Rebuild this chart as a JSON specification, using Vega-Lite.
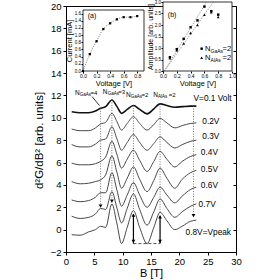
{
  "$schema": "https://vega.github.io/schema/vega-lite/v6.json",
  "width": 170,
  "height": 246,
  "autosize": "none",
  "padding": {"left": 66, "top": 6, "right": 44, "bottom": 28},
  "background": "white",
  "config": {
    "font": "Liberation Sans",
    "view": {"stroke": "black", "strokeWidth": 1},
    "axis": {"grid": false, "domainColor": "black", "tickColor": "black", "labelColor": "black", "titleColor": "black", "titleFontWeight": "normal", "labelFlush": false, "labelOverlap": false, "labelBound": false, "zindex": 1}
  },
  "datasets": {
    "curves": [
      {"B": 1, "v1": 10.55, "v2": 9.0, "v3": 7.6, "v4": 5.95, "v5": 4.3, "v6": 2.65, "v7": 1.2, "v8": -0.45},
      {"B": 2.5, "v1": 10.45, "v2": 8.85, "v3": 7.4, "v4": 5.8, "v5": 4.1, "v6": 2.5, "v7": 1.0, "v8": -0.5},
      {"B": 4, "v1": 10.45, "v2": 8.85, "v3": 7.4, "v4": 5.8, "v5": 4.15, "v6": 2.6, "v7": 1.1, "v8": -0.2},
      {"B": 5.2, "v1": 10.6, "v2": 9.1, "v3": 7.65, "v4": 5.9, "v5": 4.3, "v6": 2.9, "v7": 1.4, "v8": 0.0},
      {"B": 6.1, "v1": 10.85, "v2": 9.45, "v3": 8.0, "v4": 6.1, "v5": 4.45, "v6": 3.3, "v7": 1.9, "v8": 0.3},
      {"B": 7, "v1": 11.0, "v2": 9.6, "v3": 8.1, "v4": 6.5, "v5": 4.9, "v6": 3.3, "v7": 1.8, "v8": 0.2},
      {"B": 8.1, "v1": 11.6, "v2": 10.4, "v3": 9.2, "v4": 7.9, "v5": 6.6, "v6": 5.1, "v7": 3.4, "v8": 2.3},
      {"B": 9, "v1": 11.0, "v2": 9.65, "v3": 8.1, "v4": 6.7, "v5": 5.1, "v6": 3.5, "v7": 1.9, "v8": 0.5},
      {"B": 9.8, "v1": 10.4, "v2": 8.9, "v3": 7.1, "v4": 5.5, "v5": 3.7, "v6": 2.1, "v7": 0.6, "v8": -1.25},
      {"B": 10.8, "v1": 10.75, "v2": 9.5, "v3": 7.8, "v4": 6.3, "v5": 4.6, "v6": 3.1, "v7": 1.9, "v8": 0.2},
      {"B": 11.9, "v1": 11.1, "v2": 10.1, "v3": 8.5, "v4": 7.1, "v5": 5.6, "v6": 4.2, "v7": 3.2, "v8": 1.7},
      {"B": 13, "v1": 10.75, "v2": 9.5, "v3": 7.8, "v4": 6.2, "v5": 4.5, "v6": 3.1, "v7": 1.8, "v8": 0.2},
      {"B": 14.3, "v1": 10.35, "v2": 8.9, "v3": 7.1, "v4": 5.2, "v5": 3.4, "v6": 2.0, "v7": 0.4, "v8": -1.25},
      {"B": 15.5, "v1": 10.8, "v2": 9.4, "v3": 7.7, "v4": 6.1, "v5": 4.4, "v6": 2.9, "v7": 1.6, "v8": 0.2},
      {"B": 16.6, "v1": 11.25, "v2": 9.95, "v3": 8.3, "v4": 7.0, "v5": 5.5, "v6": 3.8, "v7": 2.75, "v8": 1.55},
      {"B": 17.8, "v1": 11.1, "v2": 9.55, "v3": 7.8, "v4": 6.3, "v5": 4.6, "v6": 3.1, "v7": 1.9, "v8": 0.8},
      {"B": 19.2, "v1": 10.95, "v2": 9.1, "v3": 7.3, "v4": 5.6, "v5": 3.7, "v6": 2.4, "v7": 1.1, "v8": 0.0},
      {"B": 20.5, "v1": 11.0, "v2": 9.3, "v3": 7.6, "v4": 6.1, "v5": 4.5, "v6": 3.0, "v7": 1.6, "v8": 0.3},
      {"B": 22, "v1": 11.05, "v2": 9.5, "v3": 7.9, "v4": 6.55, "v5": 5.1, "v6": 3.6, "v7": 2.1, "v8": 0.75},
      {"B": 23, "v1": 11.05, "v2": 9.55, "v3": 8.0, "v4": 6.7, "v5": 5.3, "v6": 3.8, "v7": 2.3, "v8": 0.85}
    ],
    "nlabels": [
      {"B": 1.6, "y": 12.2, "s": "GaAs", "e": "=4"},
      {"B": 6.5, "y": 12.3, "s": "GaAs", "e": "=3"},
      {"B": 10.6, "y": 12.05, "s": "GaAs", "e": "=2"},
      {"B": 15.4, "y": 12.05, "s": "AlAs", "e": "=2"}
    ],
    "legendb": [
      {"V": 0.61, "A": 0.97, "s": "GaAs", "e": "=2"},
      {"V": 0.61, "A": 0.58, "s": "AlAs", "e": "=2"}
    ],
    "ia": [
      {"V": 0, "I": 0}, {"V": 0.1, "I": 0.47}, {"V": 0.2, "I": 0.83}, {"V": 0.3, "I": 1.17},
      {"V": 0.4, "I": 1.33}, {"V": 0.5, "I": 1.44}, {"V": 0.6, "I": 1.5}, {"V": 0.7, "I": 1.5}, {"V": 0.8, "I": 1.53}
    ]
  },
  "layer": [
    {
      "resolve": {"axis": {"x": "independent", "y": "independent"}},
      "layer": [
        {
          "data": {"name": "curves"},
          "transform": [{"fold": ["v2", "v3", "v4", "v5", "v6", "v7", "v8"], "as": ["V", "v"]}],
          "mark": {"type": "line", "interpolate": "monotone", "color": "#333", "strokeWidth": 0.9},
          "encoding": {
            "x": {"field": "B", "type": "quantitative", "scale": {"domain": [0, 30], "nice": false, "zero": false}, "axis": null},
            "y": {"field": "v", "type": "quantitative", "scale": {"domain": [-2, 20], "nice": false, "zero": false}, "axis": null},
            "detail": {"field": "V"}
          }
        },
        {
          "data": {"name": "curves"},
          "transform": [{"fold": ["v1"], "as": ["V", "v"]}],
          "mark": {"type": "line", "interpolate": "monotone", "color": "#111", "strokeWidth": 1.6},
          "encoding": {
            "x": {"field": "B", "type": "quantitative", "axis": null},
            "y": {"field": "v", "type": "quantitative", "axis": null}
          }
        },
        {
          "data": {"values": [
            {"B": 6.1, "y1": 10.85, "y2": 1.95},
            {"B": 8.1, "y1": 11.6, "y2": 2.4},
            {"B": 11.9, "y1": 11.1, "y2": 1.7},
            {"B": 16.6, "y1": 11.25, "y2": 1.55},
            {"B": 22.5, "y1": 11.05, "y2": 1.1}
          ]},
          "mark": {"type": "rule", "color": "#555", "strokeWidth": 0.8, "strokeDash": [1, 1.5]},
          "encoding": {
            "x": {"field": "B", "type": "quantitative", "axis": null},
            "y": {"field": "y1", "type": "quantitative", "axis": null},
            "y2": {"field": "y2"}
          }
        },
        {
          "data": {"values": [{"B": 11.9, "y1": -1.25, "y2": 1.4}, {"B": 16.6, "y1": -1.25, "y2": 1.25}]},
          "mark": {"type": "rule", "color": "black", "strokeWidth": 1.2},
          "encoding": {
            "x": {"field": "B", "type": "quantitative", "axis": null},
            "y": {"field": "y1", "type": "quantitative", "axis": null},
            "y2": {"field": "y2"}
          }
        },
        {
          "data": {"values": [{"B": 6.1, "y": 2.1}, {"B": 8.1, "y": 2.55}, {"B": 11.9, "y": -1.05}, {"B": 16.6, "y": -1.05}, {"B": 22.5, "y": 1.25}]},
          "mark": {"type": "point", "shape": "triangle-down", "filled": true, "color": "black", "size": 14, "opacity": 1},
          "encoding": {
            "x": {"field": "B", "type": "quantitative", "axis": null},
            "y": {"field": "y", "type": "quantitative", "axis": null}
          }
        },
        {
          "data": {"values": [{"B": 11.9, "y": 1.3}, {"B": 16.6, "y": 1.15}]},
          "mark": {"type": "point", "shape": "triangle-up", "filled": true, "color": "black", "size": 14, "opacity": 1},
          "encoding": {
            "x": {"field": "B", "type": "quantitative", "axis": null},
            "y": {"field": "y", "type": "quantitative", "axis": null}
          }
        },
        {
          "data": {"values": [{"B1": 4.6, "y1": 11.9, "B2": 5.9, "y2": 11.1}]},
          "mark": {"type": "rule", "color": "black", "strokeWidth": 0.8},
          "encoding": {
            "x": {"field": "B1", "type": "quantitative", "axis": null},
            "x2": {"field": "B2"},
            "y": {"field": "y1", "type": "quantitative", "axis": null},
            "y2": {"field": "y2"}
          }
        },
        {
          "data": {"name": "nlabels"},
          "mark": {"type": "text", "text": "N", "align": "left", "baseline": "middle", "fontSize": 6.5, "color": "black"},
          "encoding": {
            "x": {"field": "B", "type": "quantitative", "axis": null},
            "y": {"field": "y", "type": "quantitative", "axis": null}
          }
        },
        {
          "data": {"name": "nlabels"},
          "mark": {"type": "text", "align": "left", "baseline": "middle", "fontSize": 4.5, "dx": 4.8, "dy": 2, "color": "black"},
          "encoding": {
            "x": {"field": "B", "type": "quantitative", "axis": null},
            "y": {"field": "y", "type": "quantitative", "axis": null},
            "text": {"field": "s"}
          }
        },
        {
          "data": {"name": "nlabels"},
          "mark": {"type": "text", "align": "left", "baseline": "middle", "fontSize": 6, "dx": 15.5, "color": "black"},
          "encoding": {
            "x": {"field": "B", "type": "quantitative", "axis": null},
            "y": {"field": "y", "type": "quantitative", "axis": null},
            "text": {"field": "e"}
          }
        }
      ]
    },
    {
      "data": {"values": [{"B1": 11.9, "B2": 16.6, "y": -1.25}]},
      "mark": {"type": "rule", "color": "#222", "strokeWidth": 0.8, "strokeDash": [3, 2]},
      "encoding": {
        "x": {"field": "B1", "type": "quantitative", "scale": {"domain": [0, 30], "nice": false, "zero": false}, "axis": null},
        "x2": {"field": "B2"},
        "y": {"field": "y", "type": "quantitative", "scale": {"domain": [-2, 20], "nice": false, "zero": false},
          "axis": {"orient": "right", "offset": -3, "values": [-2, 0, 2, 4, 6, 8, 10, 12, 14, 16, 18, 20], "labels": false, "tickSize": 3, "domain": false, "title": null}}
      }
    },
    {
      "data": {"values": [
        {"B": 22.5, "y": 11.68, "t": "V=0.1 Volt"},
        {"B": 24.05, "y": 9.6, "t": "0.2V"},
        {"B": 24.05, "y": 8.31, "t": "0.3V"},
        {"B": 23.8, "y": 6.82, "t": "0.4V"},
        {"B": 23.8, "y": 5.33, "t": "0.5V"},
        {"B": 23.8, "y": 3.9, "t": "0.6V"},
        {"B": 23.4, "y": 2.2, "t": "0.7V"},
        {"B": 21.1, "y": -0.33, "t": "0.8V=Vpeak"}
      ]},
      "mark": {"type": "text", "align": "left", "baseline": "middle", "fontSize": 8.3, "color": "black"},
      "encoding": {
        "x": {"field": "B", "type": "quantitative", "scale": {"domain": [0, 30], "nice": false, "zero": false},
          "axis": {"orient": "bottom", "values": [0, 5, 10, 15, 20, 25, 30], "labelOverlap": false, "title": "B [T]", "titleFontSize": 11, "labelFontSize": 9.5, "tickSize": 3, "labelPadding": 1, "titlePadding": 2}},
        "y": {"field": "y", "type": "quantitative", "scale": {"domain": [-2, 20], "nice": false, "zero": false},
          "axis": {"orient": "left", "values": [-2, 0, 2, 4, 6, 8, 10, 12, 14, 16, 18, 20], "labelOverlap": false, "title": "d²G/dB² [arb. units]", "titleFontSize": 11.5, "labelFontSize": 9.5, "tickSize": 3, "labelPadding": 2, "titleX": -27, "titleY": 134, "titleAlign": "center", "titleBaseline": "middle", "titleAngle": -90}},
        "text": {"field": "t"}
      }
    },
    {
      "resolve": {"axis": {"x": "independent", "y": "independent"}},
      "layer": [
        {
          "data": {"values": [{"x0": 0, "x1": 0.9, "y0": 0, "y1": 1.7}]},
          "mark": {"type": "rect", "fill": "white", "stroke": "black", "strokeWidth": 0.8},
          "encoding": {
            "x": {"field": "x0", "type": "quantitative", "scale": {"domain": [0, 0.9], "range": [17, 78], "nice": false, "zero": false},
              "axis": {"orient": "bottom", "offset": -181, "values": [0, 0.2, 0.4, 0.6, 0.8], "labelOverlap": false, "format": ".1f", "labelFontSize": 5, "tickSize": 2, "labelPadding": 0.5, "title": "Voltage [V]", "titleFontSize": 7.5, "titlePadding": 1, "domain": false}},
            "x2": {"field": "x1"},
            "y": {"field": "y0", "type": "quantitative", "scale": {"domain": [0, 1.7], "range": [65, 4], "nice": false, "zero": false},
              "axis": {"orient": "left", "offset": -17, "values": [0, 0.2, 0.4, 0.6, 0.8, 1.0, 1.2, 1.4, 1.6], "labelOverlap": false, "format": ".1f", "labelFontSize": 4.5, "tickSize": 2, "labelPadding": 0.5, "title": "Current [mA]", "titleFontSize": 7.5, "titlePadding": 1, "domain": false}},
            "y2": {"field": "y1"}
          }
        },
        {
          "data": {"name": "ia"},
          "mark": {"type": "line", "interpolate": "monotone", "color": "#444", "strokeWidth": 0.7, "strokeDash": [1, 1.2]},
          "encoding": {
            "x": {"field": "V", "type": "quantitative", "axis": null},
            "y": {"field": "I", "type": "quantitative", "axis": null}
          }
        },
        {
          "data": {"name": "ia"},
          "mark": {"type": "point", "shape": "square", "filled": true, "color": "black", "size": 5, "opacity": 1},
          "encoding": {
            "x": {"field": "V", "type": "quantitative", "axis": null},
            "y": {"field": "I", "type": "quantitative", "axis": null}
          }
        },
        {
          "data": {"values": [{"V": 0.07, "I": 1.53, "t": "(a)"}]},
          "mark": {"type": "text", "align": "left", "baseline": "middle", "fontSize": 7, "color": "black"},
          "encoding": {
            "x": {"field": "V", "type": "quantitative", "axis": null},
            "y": {"field": "I", "type": "quantitative", "axis": null},
            "text": {"field": "t"}
          }
        }
      ]
    },
    {
      "resolve": {"axis": {"x": "independent", "y": "independent"}},
      "layer": [
        {
          "data": {"values": [{"x0": 0, "x1": 1.0, "y0": 0, "y1": 3.0}]},
          "mark": {"type": "rect", "fill": "white", "stroke": "black", "strokeWidth": 0.8},
          "encoding": {
            "x": {"field": "x0", "type": "quantitative", "scale": {"domain": [0, 1.0], "range": [97, 166], "nice": false, "zero": false},
              "axis": {"orient": "bottom", "offset": -181, "values": [0, 0.2, 0.4, 0.6, 0.8, 1.0], "labelOverlap": false, "format": ".1f", "labelFontSize": 5, "tickSize": 2, "labelPadding": 0.5, "title": "Voltage [V]", "titleFontSize": 7.5, "titlePadding": 1, "domain": false}},
            "x2": {"field": "x1"},
            "y": {"field": "y0", "type": "quantitative", "scale": {"domain": [0, 3.0], "range": [65, -4], "nice": false, "zero": false},
              "axis": {"orient": "left", "offset": -97, "values": [0, 0.5, 1.0, 1.5, 2.0, 2.5, 3.0], "labelOverlap": false, "format": ".1f", "labelFontSize": 4.5, "tickSize": 2, "labelPadding": 0.5, "title": "Amplitude [arb. units]", "titleFontSize": 7, "titlePadding": 1, "domain": false}},
            "y2": {"field": "y1"}
          }
        },
        {
          "data": {"values": [
            {"V": 0.02, "A": 0, "g": "s"}, {"V": 0.63, "A": 3.0, "g": "s"},
            {"V": 0.02, "A": 0, "g": "t"}, {"V": 0.73, "A": 3.0, "g": "t"}
          ]},
          "mark": {"type": "line", "color": "#555", "strokeWidth": 0.7, "strokeDash": [1, 1.2]},
          "encoding": {
            "x": {"field": "V", "type": "quantitative", "axis": null},
            "y": {"field": "A", "type": "quantitative", "axis": null},
            "detail": {"field": "g"}
          }
        },
        {
          "data": {"values": [
            {"V": 0.1, "A": 0.6}, {"V": 0.2, "A": 0.95}, {"V": 0.3, "A": 1.4}, {"V": 0.4, "A": 1.9},
            {"V": 0.5, "A": 2.2}, {"V": 0.6, "A": 2.8}, {"V": 0.7, "A": 2.6}, {"V": 0.8, "A": 2.45},
            {"V": 0.56, "A": 0.97}
          ]},
          "mark": {"type": "point", "shape": "square", "filled": true, "color": "black", "size": 6, "opacity": 1},
          "encoding": {
            "x": {"field": "V", "type": "quantitative", "axis": null},
            "y": {"field": "A", "type": "quantitative", "axis": null}
          }
        },
        {
          "data": {"values": [
            {"V": 0.1, "A": 0.55}, {"V": 0.2, "A": 0.9}, {"V": 0.3, "A": 1.2}, {"V": 0.4, "A": 1.65},
            {"V": 0.5, "A": 2.0}, {"V": 0.6, "A": 2.45}, {"V": 0.7, "A": 2.55}, {"V": 0.8, "A": 2.35},
            {"V": 0.56, "A": 0.58}
          ]},
          "mark": {"type": "point", "shape": "triangle-up", "filled": true, "color": "black", "size": 8, "opacity": 1},
          "encoding": {
            "x": {"field": "V", "type": "quantitative", "axis": null},
            "y": {"field": "A", "type": "quantitative", "axis": null}
          }
        },
        {
          "data": {"values": [{"V": 0.07, "A": 2.42, "t": "(b)"}]},
          "mark": {"type": "text", "align": "left", "baseline": "middle", "fontSize": 7, "color": "black"},
          "encoding": {
            "x": {"field": "V", "type": "quantitative", "axis": null},
            "y": {"field": "A", "type": "quantitative", "axis": null},
            "text": {"field": "t"}
          }
        },
        {
          "data": {"name": "legendb"},
          "mark": {"type": "text", "text": "N", "align": "left", "baseline": "middle", "fontSize": 7.5, "color": "black"},
          "encoding": {
            "x": {"field": "V", "type": "quantitative", "axis": null},
            "y": {"field": "A", "type": "quantitative", "axis": null}
          }
        },
        {
          "data": {"name": "legendb"},
          "mark": {"type": "text", "align": "left", "baseline": "middle", "fontSize": 5, "dx": 5.5, "dy": 2, "color": "black"},
          "encoding": {
            "x": {"field": "V", "type": "quantitative", "axis": null},
            "y": {"field": "A", "type": "quantitative", "axis": null},
            "text": {"field": "s"}
          }
        },
        {
          "data": {"name": "legendb"},
          "mark": {"type": "text", "align": "left", "baseline": "middle", "fontSize": 7.5, "dx": 17.5, "color": "black"},
          "encoding": {
            "x": {"field": "V", "type": "quantitative", "axis": null},
            "y": {"field": "A", "type": "quantitative", "axis": null},
            "text": {"field": "e"}
          }
        }
      ]
    }
  ],
  "resolve": {"scale": {"x": "independent", "y": "independent"}}
}
